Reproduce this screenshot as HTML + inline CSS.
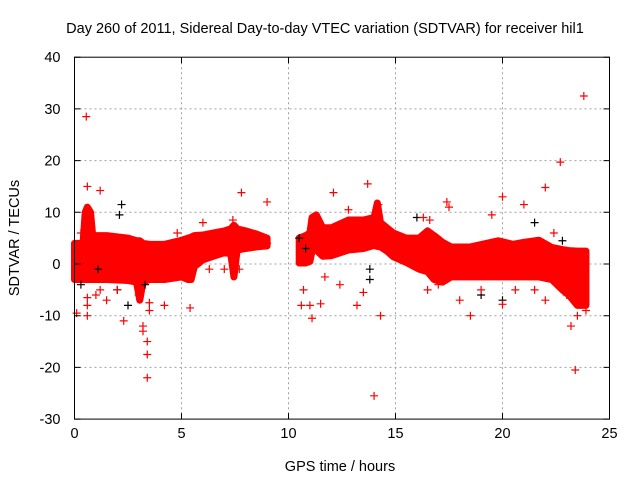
<!DOCTYPE html>
<html><head><meta charset="utf-8"><style>
body{margin:0;background:#fff;}
svg{display:block;font-family:"Liberation Sans",sans-serif;}
</style></head><body>
<svg id="chart" width="640" height="480" viewBox="0 0 640 480">
<rect width="640" height="480" fill="#fff"/>
<text x="325" y="33" font-size="14.5" text-anchor="middle">Day 260 of 2011, Sidereal Day-to-day VTEC variation (SDTVAR) for receiver hil1</text>
<g id="grid"></g><g id="band"></g><g id="pts"></g><g id="axes"></g>
<text x="340" y="471" font-size="14.5" text-anchor="middle">GPS time / hours</text>
<text transform="translate(19,238) rotate(-90)" font-size="14.5" text-anchor="middle">SDTVAR / TECUs</text>
</svg>
<script>
const xTicks=[0,5,10,15,20,25];
const yTicks=[-30,-20,-10,0,10,20,30,40];
// dense band segments: each segment is a run of sample times with low/high envelopes
const seg1T=[0,0.4,0.5,0.6,0.75,0.85,1.5,2.5,2.9,3.05,3.2,3.5,4.2,5.0,5.3,5.45,5.6,6.0,6.5,7.0,7.3,7.45,7.6,8.0,8.5,9.0];
const seg1Low=[-3,-3,-3,-3,-3,-3,-3,-3.2,-3.5,-7,-3.5,-3,-3,-2.5,-3,-3,-0.5,0.8,1.5,2.2,2.0,-2.5,2.7,3.0,3.3,3.5];
const seg1High=[4,4,10,11,10,5.5,5.5,5,4.5,4.5,4,3.8,3.8,4.6,5,5.2,5.5,5.6,6,6.4,6.8,7.5,6.8,6.4,5.8,5];
const seg2T=[10.5,10.8,11.0,11.1,11.3,11.6,12.0,12.8,13.5,14.0,14.15,14.3,14.6,14.9,15.5,16.1,16.5,16.8,17.2,17.6,18.5,19.8,20.5,21.0,21.7,22.3,22.8,23.1,23.5,23.9];
const seg2Low=[0.2,0.2,0.5,2.5,2.7,1.5,1.6,2.7,3.0,3.6,3.4,3.3,2.5,1.4,0.3,-1,-1.5,-3,-3.5,-2.5,-2.5,-2.5,-2.5,-2.5,-2.5,-3,-5,-6,-8,-8];
const seg2High=[5,5.5,6,9,9.5,7,7,8.5,8.5,9,11.8,8,7,6,5,5,6.4,5.5,4.2,3.3,3.3,4.5,3.8,4.2,4.6,3.2,2.8,2.6,2.5,2.5];
// outliers [hours, TECU]
const redT=[0.55,0.6,1.2,7.8,9.0,13.7,12.1,14.0,14.3,3.4,3.4,3.4,3.2,3.2,3.5,3.5,0.1,0.6,0.6,0.6,1.2,4.2,5.4,1.5,11.1,11.0,10.6,10.7,11.5,12.4,11.7,13.2,13.5,22.7,23.8,23.4,23.2,23.5,22.0,21.0,20.0,19.5,17.4,18.5,20.0,22.0,17.5,16.6,16.5,2.3,12.8,14.2,0.05,7.4,6.0,23.9,9.0,18.0,21.5,3.0,3.1,2.0,1.0,0.3,4.8,6.3,7.0,7.7,16.3,17.0,19.0,20.6,22.4,23.0];
const redV=[28.5,15,14.2,13.8,12,15.5,13.8,-25.5,-10,-22,-17.5,-15,-13,-12,-9,-7.5,-9.5,-10,-8,-6.5,-5,-8,-8.5,-7,-10.5,-8,-8,-5,-7.7,-4,-2.5,-8,-5.5,19.7,32.5,-20.5,-12,-10,14.8,11.5,13,9.5,12,-10,-7.8,-7,11,8.5,-5,-11,10.5,11.5,-1,8.5,8,-9,4,-7,-5,-6,-5,-5,-6,6,6,-1,-1,-1,9,-4,-5,-5,6,-6];
const blackT=[2.2,2.1,1.1,2.0,2.5,13.8,13.8,10.5,10.8,20.0,22.8,3.3,16.0,19.0,21.5,0.3];
const blackV=[11.5,9.5,-1,-5,-8,-3,-1,5,3,-7,4.5,-4,9,-6,8,-4];
const NS='http://www.w3.org/2000/svg';
const X0=74.5,XS=21.4,Y0=264,YS=5.17;
const sx=t=>X0+t*XS, sy=v=>Y0-v*YS;
function mk(tag,attrs,parent){const e=document.createElementNS(NS,tag);for(const k in attrs)e.setAttribute(k,attrs[k]);document.getElementById(parent).appendChild(e);return e;}
const L=sx(0),R=sx(25),T=sy(40),B=sy(-30);
xTicks.forEach(t=>{
 if(t>0&&t<25){const g=mk('line',{x1:sx(t),x2:sx(t),y1:T,y2:B,stroke:'#a0a0a0','stroke-dasharray':'2,3'},'grid');
 
 }
 const tk=mk('path',{d:`M${sx(t)},${B}v-6M${sx(t)},${T}v6`,stroke:'#000'},'axes');
 
 
 const lb=mk('text',{x:sx(t),y:B+19,'font-size':'14.5','text-anchor':'middle'},'axes');lb.textContent=t;
 
 
});
yTicks.forEach(v=>{
 if(v>-30&&v<40){const g=mk('line',{x1:L,x2:R,y1:sy(v),y2:sy(v),stroke:'#a0a0a0','stroke-dasharray':'2,3'},'grid');
 
 }
 const tk=mk('path',{d:`M${L},${sy(v)}h6M${R},${sy(v)}h-6`,stroke:'#000'},'axes');
 
 
 const lb=mk('text',{x:L-14,y:sy(v)+5,'font-size':'14.5','text-anchor':'end'},'axes');lb.textContent=v;
 
 
});
const fr=mk('rect',{x:L,y:T,width:R-L,height:B-T,fill:'none',stroke:'#000'},'axes');


function band(ts,lo,hi,name){
 let d='M'+ts.map((t,i)=>`${sx(t)},${sy(hi[i])}`).join('L');
 d+='L'+ts.map((t,i)=>`${sx(t)},${sy(lo[i])}`).reverse().join('L')+'Z';
 const p=mk('path',{d:d,fill:'#ff0000',stroke:'#ff0000','stroke-width':'7','stroke-linejoin':'round'},'band');
 
 
}
band(seg1T,seg1Low,seg1High,'sdtvar-band-morning');
band(seg2T,seg2Low,seg2High,'sdtvar-band-afternoon');
function plus(t,v,c,name){const p=mk('path',{d:`M${sx(t)-4},${sy(v)}h8M${sx(t)},${sy(v)-4}v8`,stroke:c,'stroke-width':'1.2'},'pts');
 
 }
blackT.forEach((t,i)=>plus(t,blackV[i],'#000','point-black'));
redT.forEach((t,i)=>plus(t,redV[i],'#ff0000','point-red'));
</script>
</body></html>
